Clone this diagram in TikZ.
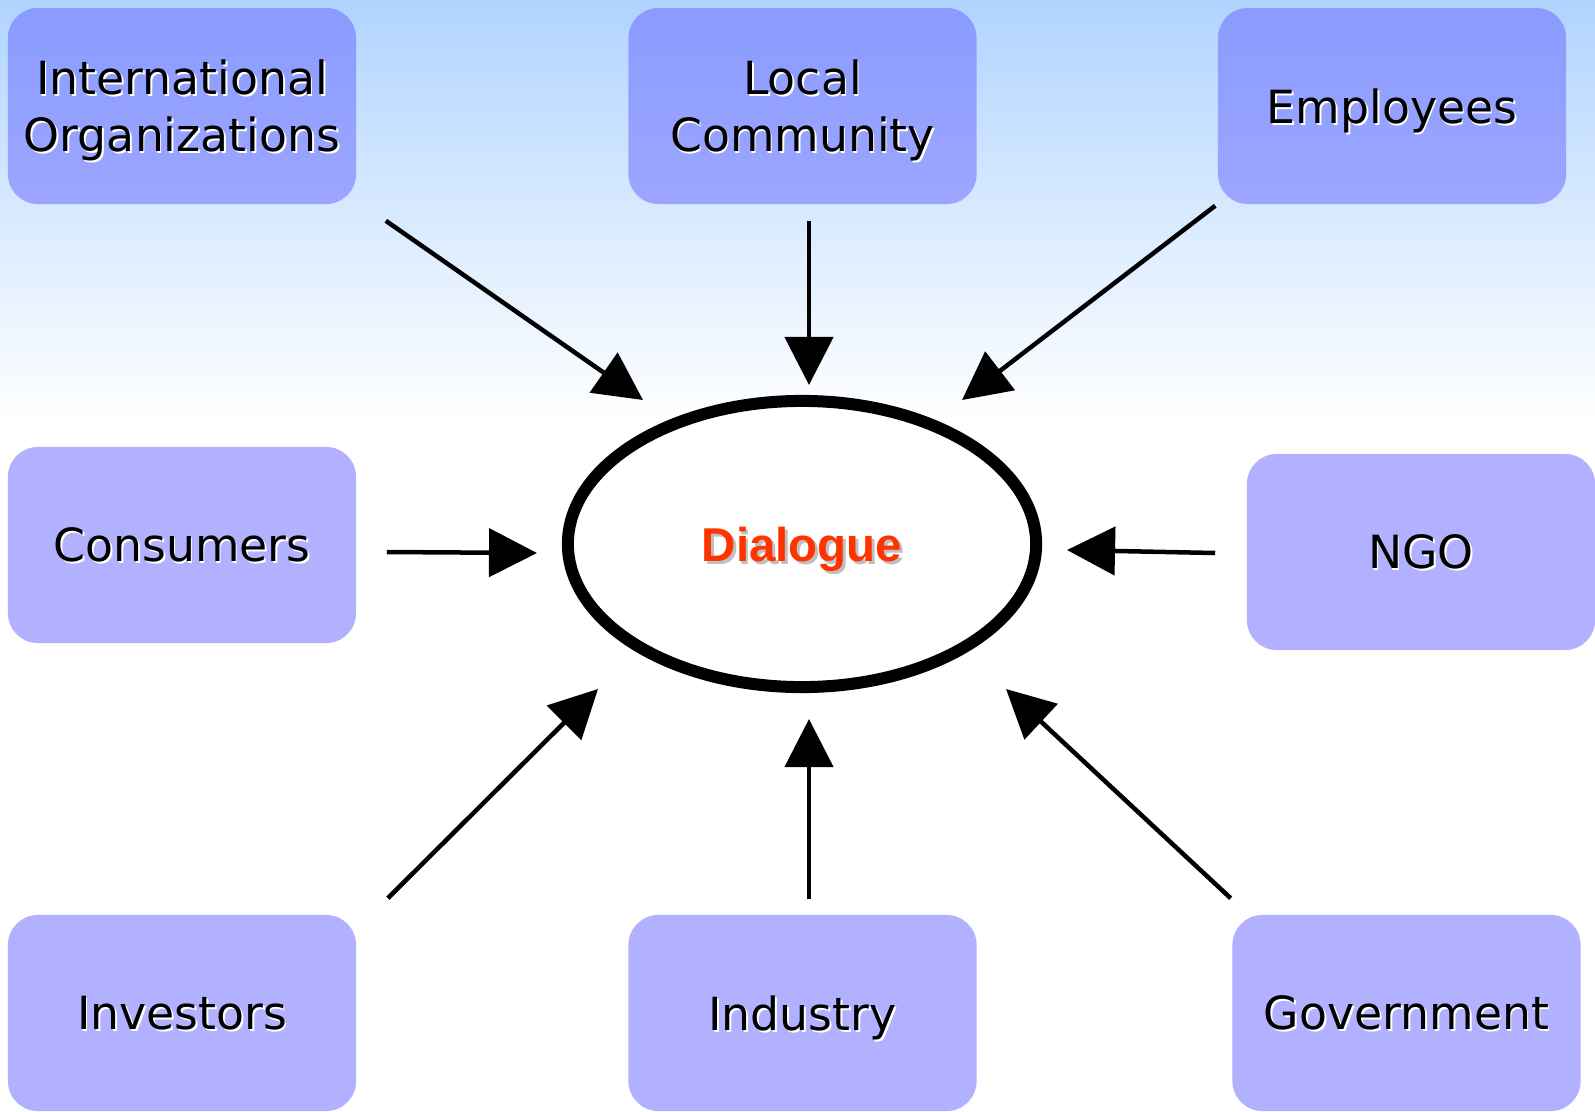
\documentclass[tikz,border=0pt]{standalone}
\usepackage{fontspec}
\setmainfont{DejaVu Sans}
\newfontfamily\dialfont{Liberation Sans}
\usetikzlibrary{arrows.meta,shapes.geometric}
\definecolor{skytop}{RGB}{176,212,255}
\definecolor{boxblue}{RGB}{100,100,255}
\definecolor{dialred}{RGB}{255,51,0}
% text with a light offset shadow (depth dropped so it sits centred)
\newcommand{\lift}[1]{\raisebox{0pt}[\height][0pt]{\makebox[0pt][l]{\hspace{0.5pt}\raisebox{-0.5pt}{\color{white}#1}}#1}}
\newcommand{\dlift}[1]{\raisebox{0pt}[\height][0pt]{\makebox[0pt][l]{\hspace{0.8pt}\raisebox{-0.8pt}{\color{black!25}#1}}{\color{dialred}#1}}}
\begin{document}
\begin{tikzpicture}[x=0.01cm,y=0.01cm,
	party/.style={rectangle,rounded corners=0.3cm,fill=boxblue,fill opacity=0.5,text opacity=1,
		minimum width=3.48cm,minimum height=1.96cm,inner sep=0,align=center,
		font=\fontsize{13}{16.2}\selectfont},
	feed/.style={line width=0.045cm,-{Triangle[length=0.48cm,width=0.48cm]}}]
	\useasboundingbox (0,0) rectangle (1595,1111);
	% sky
	\fill[white] (0,0) rectangle (1595,691);
	\shade[top color=skytop,bottom color=white] (0,691) rectangle (1595,1111);
	% stakeholders
	\node[party] (io) at (182,1005) {\lift{International}\\\lift{Organizations}};
	\node[party] (lc) at (802.5,1005) {\lift{Local}\\\lift{Community}};
	\node[party] (emp) at (1392,1005) {\lift{Employees}};
	\node[party] (con) at (182,566) {\lift{Consumers}};
	\node[party] (ngo) at (1421,559) {\lift{NGO}};
	\node[party] (inv) at (182,98) {\lift{Investors}};
	\node[party] (ind) at (802.5,98) {\lift{Industry}};
	\node[party] (gov) at (1406.5,98) {\lift{Government}};
	% centre
	\node[ellipse,draw,line width=0.12cm,fill=white,minimum width=4.68cm,minimum height=2.86cm,
		inner sep=0,outer sep=0] (dial) at (802,567)
		{\dialfont\bfseries\fontsize{13.5}{16}\selectfont\dlift{Dialogue}};
	% arrows
	\foreach \n/\a/\sx/\sy/\tx/\ty in {io/south east/29/-16/-159/144,lc/south/6.5/-16/7/159,
		emp/south west/-2/-1/160/144,con/east/30/-7/-265/-9,ngo/west/-31/-1/265/-6,
		inv/north east/31/16/-204/-145,ind/north/6.5/15/7/-175,gov/north west/-1/16/204/-145}
	\draw[feed] ([shift={(\sx,\sy)}]\n.\a) -- ([shift={(\tx,\ty)}]dial.center);
\end{tikzpicture}
\end{document}
